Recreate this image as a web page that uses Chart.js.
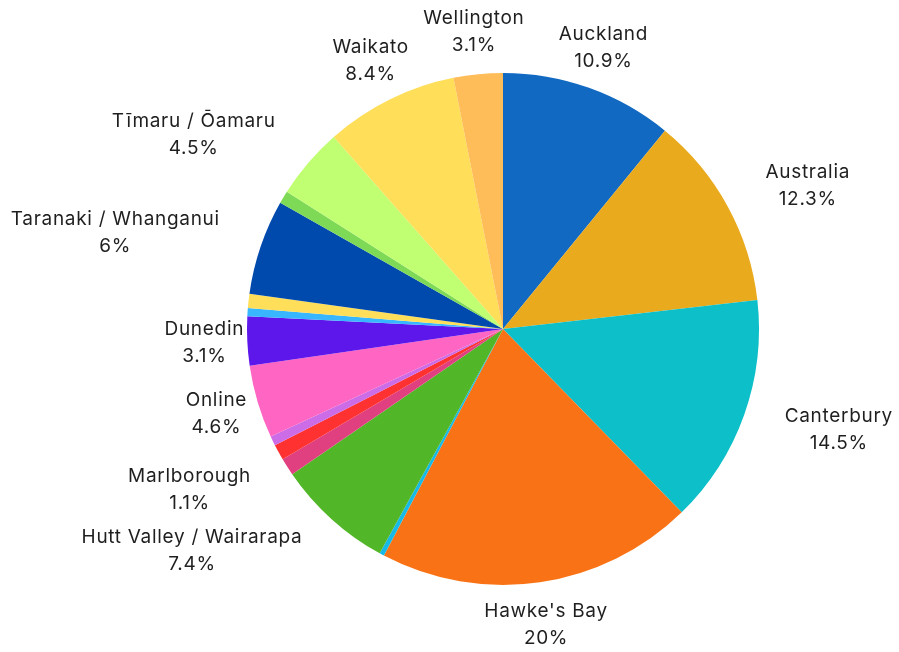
<!doctype html>
<html>
<head>
    <title>Pie Chart</title>
    <script src="https://cdn.jsdelivr.net/npm/chart.js@4.4.1/dist/chart.umd.min.js"></script>
    <style>
        html, body{
            margin: 0px;
            background: #fff;
        }
        #container{
            width: 899px;
            height: 652px;
        }
    </style>
</head>
<body>
    <div id="container">
        <canvas id="canvas"></canvas>
    </div>
    <script>
        // slices, clockwise from 12 o'clock. empty name = no label drawn
        var regions = ['Auckland', 'Australia', 'Canterbury', "Hawke's Bay", '', 'Hutt Valley / Wairarapa',
            'Marlborough', '', '', 'Online', 'Dunedin', '', '', 'Taranaki / Whanganui', '',
            'Tīmaru / Ōamaru', 'Waikato', 'Wellington'];
        var shares = [10.9, 12.3, 14.5, 20, 0.3, 7.4, 1.1, 1.0, 0.6, 4.6, 3.1, 0.5, 0.9, 6, 0.8, 4.5, 8.4, 3.1];
        var colours = ['#1169c1', '#e9aa1d', '#0cbfc8', '#f97316', '#17b9e6', '#52b728', '#e0407f', '#ff3131',
            '#cc6ce7', '#ff66c4', '#5e17eb', '#38b6ff', '#ffde59', '#004aad', '#7ed957', '#c1ff72', '#ffde59', '#ffbd59'];

        var labelFont = '19px Inter';
        var lineHeight = 27;

        var outsideLabels = {
            id: 'outsideLabels',
            afterDraw: function(chart){
                var ctx = chart.ctx;
                var meta = chart.getDatasetMeta(0);
                ctx.save();
                ctx.font = labelFont;
                ctx.letterSpacing = '0.7px';
                ctx.fillStyle = '#1f1f1f';
                ctx.textBaseline = 'middle';
                meta.data.forEach(function(arc, i){
                    var name = regions[i];
                    if(!name) return;
                    var p = arc.getProps(['x', 'y', 'startAngle', 'endAngle', 'outerRadius'], true);
                    var mid = (p.startAngle + p.endAngle) / 2;
                    var ax = p.x + (p.outerRadius + 43) * Math.cos(mid);
                    var ay = p.y + (p.outerRadius + 43) * Math.sin(mid);
                    var pct = shares[i] + '%';
                    var w = Math.max(ctx.measureText(name).width, ctx.measureText(pct).width);
                    // centred box unless it runs into the pie
                    var cx = ax;
                    var left = cx - w/2, right = cx + w/2, top = ay - 22, bottom = ay + 22;
                    var nx = Math.max(left, Math.min(p.x, right));
                    var ny = Math.max(top, Math.min(p.y, bottom));
                    var d = Math.sqrt((nx-p.x)*(nx-p.x) + (ny-p.y)*(ny-p.y));
                    if(d < p.outerRadius + 2){
                        cx = Math.cos(mid) > 0 ? ax + w/2 : ax - w/2;
                    }
                    ctx.textAlign = 'center';
                    ctx.fillText(name, cx, ay - lineHeight/2);
                    ctx.fillText(pct, cx, ay + lineHeight/2);
                });
                ctx.restore();
            }
        };

        window.onload = function() {
            var ctx = document.getElementById("canvas").getContext("2d");
            window.myPie = new Chart(ctx, {
                type: 'pie',
                data: {
                    labels: regions,
                    datasets: [{
                        data: shares,
                        backgroundColor: colours,
                        borderWidth: 0
                    }]
                },
                options: {
                    responsive: true,
                    maintainAspectRatio: false,
                    animation: false,
                    layout: {
                        padding: { left: 247, right: 140, top: 73, bottom: 67 }
                    },
                    plugins: {
                        legend: { display: false },
                        tooltip: { enabled: false }
                    }
                },
                plugins: [outsideLabels]
            });
        };
    </script>
</body>
</html>
